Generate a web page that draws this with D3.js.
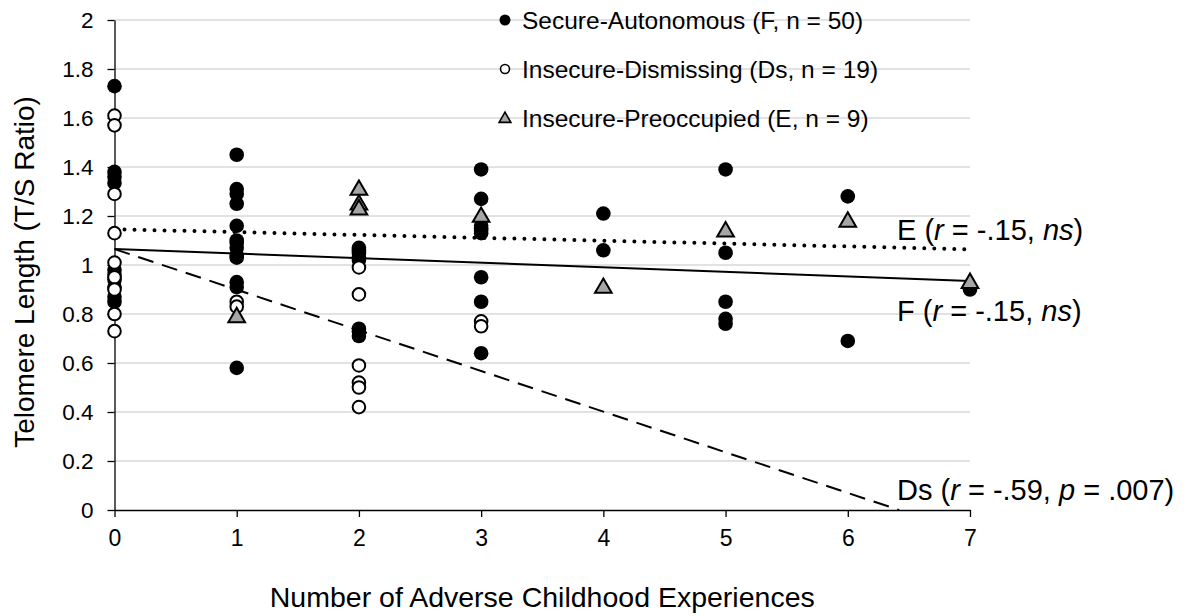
<!DOCTYPE html>
<meta charset="utf-8">
<style>
body { margin: 0; background: #fff; }
svg { font-family: "Liberation Sans", Arial, sans-serif; }
.grid line { stroke: #d9d9d9; stroke-width: 1.3px; }
.axis path, .axis line { stroke: #000; stroke-width: 1.3px; }
.axis text { fill: #000; }
</style>

<svg width="1188" height="616"></svg>

<script src="https://d3js.org/d3.v7.min.js"></script>
<script>

// Secure-Autonomous (F), Insecure-Dismissing (Ds), Insecure-Preoccupied (E): [ACEs, T/S ratio]
var secure = [
  [0,1.73],[0,1.38],[0,1.36],[0,1.335],[0,0.98],[0,0.96],[0,0.94],[0,0.91],[0,0.87],[0,0.85],
  [1,1.45],[1,1.31],[1,1.29],[1,1.25],[1,1.16],[1,1.10],[1,1.09],[1,1.07],[1,1.04],[1,1.03],[1,0.93],[1,0.91],[1,0.58],
  [2,1.07],[2,1.06],[2,1.05],[2,1.03],[2,1.02],[2,0.74],[2,0.73],[2,0.71],
  [3,1.39],[3,1.27],[3,1.16],[3,1.15],[3,1.14],[3,1.13],[3,0.95],[3,0.85],[3,0.64],
  [4,1.21],[4,1.06],
  [5,1.39],[5,1.05],[5,0.85],[5,0.78],[5,0.76],
  [6,1.28],[6,0.69],
  [7,0.90]
];
var dismissing = [
  [0,1.61],[0,1.57],[0,1.29],[0,1.13],[0,1.01],[0,0.95],[0,0.90],[0,0.80],[0,0.73],
  [1,0.85],[1,0.83],
  [2,0.99],[2,0.88],[2,0.59],[2,0.52],[2,0.50],[2,0.42],
  [3,0.77],[3,0.75]
];
var preoccupied = [
  [1,0.79],
  [2,1.31],[2,1.25],[2,1.23],
  [3,1.20],
  [4,0.91],
  [5,1.14],
  [6,1.18],
  [7,0.93]
];

// trend lines (start and end points)
var trendE = [[0,1.146],[7,1.064]];
var trendF = [[0,1.065],[7,0.935]];
var trendDs = [[0,1.065],[6.42,0]];

var xTicks = [0,1,2,3,4,5,6,7];
var yTicks = [0,0.2,0.4,0.6,0.8,1,1.2,1.4,1.6,1.8,2];

var legendLabels = ["Secure-Autonomous (F, n = 50)", "Insecure-Dismissing (Ds, n = 19)", "Insecure-Preoccupied (E, n = 9)"];

var svg = d3.select("svg");

var x = d3.scaleLinear().domain([0,7]).range([114.5,970]);
var y = d3.scaleLinear().domain([0,2]).range([510,20]);

// gridlines
svg.append("g")
    .attr("class", "grid")
  .selectAll("line")
  .data(yTicks.slice(1))
  .enter().append("line")
    .attr("x1", x(0))
    .attr("x2", x(7))
    .attr("y1", function(d) { return y(d); })
    .attr("y2", function(d) { return y(d); });

// axes
svg.append("g")
    .attr("class", "axis")
    .attr("transform", "translate(0," + y(0) + ")")
    .style("font-size", "23px")
    .call(d3.axisBottom(x).tickValues(xTicks).tickSize(7).tickSizeOuter(0).tickPadding(13).tickFormat(d3.format("d")))
    .attr("font-size", null).attr("font-family", null);

svg.append("g")
    .attr("class", "axis")
    .attr("transform", "translate(" + x(0) + ",0)")
    .style("font-size", "22.5px")
    .call(d3.axisLeft(y).tickValues(yTicks).tickSize(7).tickSizeOuter(0).tickPadding(14).tickFormat(function(d) { return d3.format("")(+d.toFixed(1)); }))
    .attr("font-size", null).attr("font-family", null);

// trend lines
var line = d3.line()
    .x(function(d) { return x(d[0]); })
    .y(function(d) { return y(d[1]); });

svg.append("path").datum(trendF)
    .attr("d", line).attr("fill", "none").attr("stroke", "#000").attr("stroke-width", 2);
svg.append("path").datum(trendDs)
    .attr("d", line).attr("fill", "none").attr("stroke", "#000").attr("stroke-width", 2)
    .attr("stroke-dasharray", "16,9");
svg.append("path").datum(trendE)
    .attr("d", line).attr("fill", "none").attr("stroke", "#000").attr("stroke-width", 4)
    .attr("stroke-linecap", "round").attr("stroke-dasharray", "0,10");

// points
var tri = d3.symbol().type(d3.symbolTriangle).size(120);

svg.append("g").selectAll("circle")
  .data(secure)
  .enter().append("circle")
    .attr("cx", function(d) { return x(d[0]); })
    .attr("cy", function(d) { return y(d[1]); })
    .attr("r", 7.3)
    .attr("fill", "#000");

svg.append("g").selectAll("circle")
  .data(dismissing)
  .enter().append("circle")
    .attr("cx", function(d) { return x(d[0]); })
    .attr("cy", function(d) { return y(d[1]); })
    .attr("r", 6.3)
    .attr("fill", "#fff")
    .attr("stroke", "#000")
    .attr("stroke-width", 2);

svg.append("g").selectAll("path")
  .data(preoccupied)
  .enter().append("path")
    .attr("d", tri)
    .attr("transform", function(d) { return "translate(" + x(d[0]) + "," + (y(d[1]) + 1) + ")"; })
    .attr("fill", "#a6a6a6")
    .attr("stroke", "#000")
    .attr("stroke-width", 2);

// legend
var legend = svg.append("g").selectAll("g")
  .data(legendLabels)
  .enter().append("g")
    .attr("transform", function(d, i) { return "translate(505," + (20 + i * 49) + ")"; });

legend.each(function(d, i) {
  var g = d3.select(this);
  if (i == 0) g.append("circle").attr("r", 5.5).attr("fill", "#000");
  if (i == 1) g.append("circle").attr("r", 4.5).attr("fill", "#fff").attr("stroke", "#000").attr("stroke-width", 1.6);
  if (i == 2) g.append("path").attr("d", d3.symbol().type(d3.symbolTriangle).size(60)).attr("transform", "translate(0,1)")
      .attr("fill", "#a6a6a6").attr("stroke", "#000").attr("stroke-width", 1.6);
});

legend.append("text")
    .attr("x", 17)
    .attr("dy", "0.35em")
    .style("font-size", "24.5px")
    .text(function(d) { return d; });

// trend line labels
function statLabel(yPos, parts) {
  var t = svg.append("text")
      .attr("x", 897)
      .attr("y", yPos)
      .style("font-size", "29px");
  parts.forEach(function(p) {
    t.append("tspan").style("font-style", p[1] ? "italic" : "normal").text(p[0]);
  });
}
statLabel(240, [["E (",0],["r",1],[" = -.15, ",0],["ns",1],[")",0]]);
statLabel(321, [["F (",0],["r",1],[" = -.15, ",0],["ns",1],[")",0]]);
statLabel(500, [["Ds (",0],["r",1],[" = -.59, ",0],["p",1],[" = .007)",0]]);

// axis titles
svg.append("text")
    .attr("x", (x(0) + x(7)) / 2)
    .attr("y", 607)
    .attr("text-anchor", "middle")
    .style("font-size", "28.5px")
    .text("Number of Adverse Childhood Experiences");

svg.append("text")
    .attr("transform", "translate(34,272) rotate(-90)")
    .attr("text-anchor", "middle")
    .style("font-size", "28px")
    .text("Telomere Length (T/S Ratio)");

</script>
